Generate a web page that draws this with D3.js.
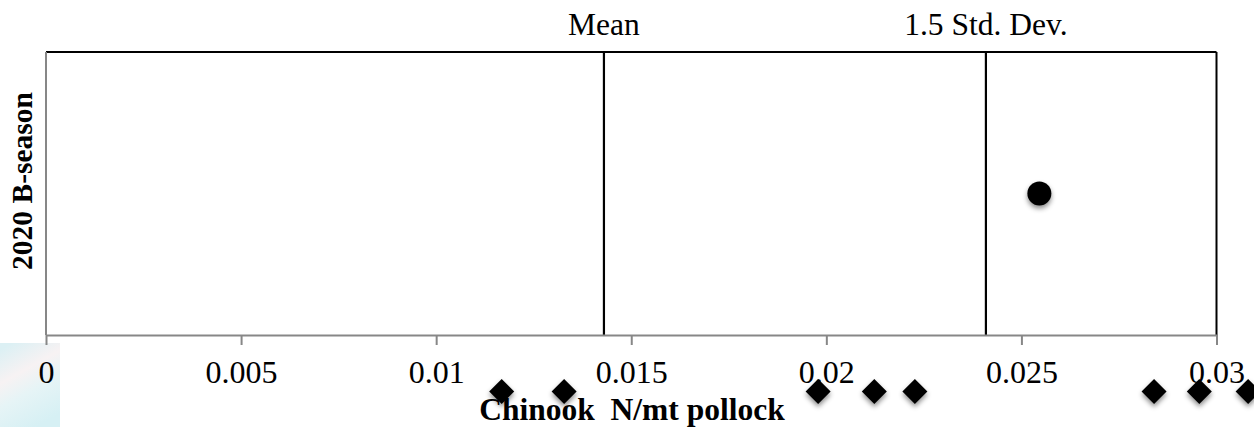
<!DOCTYPE html>
<html>
<head>
<meta charset="utf-8">
<script src="https://cdn.jsdelivr.net/npm/d3@7"></script>
<style>
  html, body { margin: 0; padding: 0; background: #fff; }
  svg { display: block; }
  text { font-family: "Liberation Serif", "Times New Roman", serif; }
</style>
</head>
<body>
<svg id="chart" width="1254" height="427"></svg>
<script>
// ---- data ----
const xTicks = [0, 0.005, 0.01, 0.015, 0.02, 0.025, 0.03];
const xTickLabels = ["0", "0.005", "0.01", "0.015", "0.02", "0.025", "0.03"];
const refLabels = ["Mean", "1.5 Std. Dev."];
const refValues = [0.0143, 0.02409];
const pointCategory = "2020 B-season";
const pointX = [0.02546];
const pointY = [0.5];
const diamondX = [0.01168, 0.01328, 0.01979, 0.02123, 0.02227, 0.0284, 0.02956, 0.03081];
const diamondY = [-0.2, -0.2, -0.2, -0.2, -0.2, -0.2, -0.2, -0.2];
const xTitle = "Chinook  N/mt pollock";

(function () {
// ---- layout ----
const svg = d3.select("#chart");
const pLeft = 46, pRight = 1216.5, pTop = 52, pBottom = 335;
const x = d3.scaleLinear().domain([0, 0.03]).range([pLeft, pRight]);
const y = d3.scaleLinear().domain([0, 1]).range([pBottom, pTop]);

const defs = svg.append("defs");
const f = defs.append("filter").attr("id", "shadow")
  .attr("x", "-50%").attr("y", "-50%").attr("width", "200%").attr("height", "200%");
f.append("feDropShadow").attr("dx", 0).attr("dy", 3).attr("stdDeviation", 2.5)
  .attr("flood-color", "#000").attr("flood-opacity", 0.45);
const g = defs.append("linearGradient").attr("id", "bluebg").attr("x1", 0.2).attr("x2", 0.6).attr("y1", 0).attr("y2", 1);
g.append("stop").attr("offset", "0%").attr("stop-color", "#dcf0f4");
g.append("stop").attr("offset", "35%").attr("stop-color", "#f7f2f3");
g.append("stop").attr("offset", "60%").attr("stop-color", "#e6f4f6");
g.append("stop").attr("offset", "100%").attr("stop-color", "#d6f0f4");

// light decorative patch at bottom left
svg.append("rect").attr("x", 0).attr("y", 343).attr("width", 60).attr("height", 84)
  .attr("fill", "url(#bluebg)");

// plot frame: top and right black
svg.append("line").attr("x1", pLeft).attr("x2", pRight).attr("y1", pTop).attr("y2", pTop)
  .attr("stroke", "#000").attr("stroke-width", 2);
svg.append("line").attr("x1", pRight).attr("x2", pRight).attr("y1", pTop).attr("y2", pBottom)
  .attr("stroke", "#000").attr("stroke-width", 2);
// left axis (grey)
svg.append("line").attr("x1", pLeft).attr("x2", pLeft).attr("y1", pTop).attr("y2", pBottom)
  .attr("stroke", "#878787").attr("stroke-width", 2);

// reference lines
svg.selectAll("line.ref").data(refValues).enter().append("line")
  .attr("class", "ref")
  .attr("x1", d => x(d)).attr("x2", d => x(d))
  .attr("y1", pTop).attr("y2", pBottom)
  .attr("stroke", "#000").attr("stroke-width", 2.2);
svg.selectAll("text.ref").data(refValues).enter().append("text")
  .attr("class", "ref")
  .attr("x", d => x(d)).attr("y", 35)
  .attr("text-anchor", "middle").attr("font-size", 31.5).attr("fill", "#000")
  .text((d, i) => refLabels[i]);

// x axis
const axis = d3.axisBottom(x).tickValues(xTicks).tickSize(10).tickSizeOuter(0)
  .tickFormat((d, i) => xTickLabels[i]);
const ax = svg.append("g").attr("transform", `translate(0,${pBottom})`).call(axis);
ax.select(".domain").attr("stroke", "#878787").attr("stroke-width", 2);
ax.selectAll(".tick line").attr("stroke", "#878787").attr("stroke-width", 2);
ax.selectAll(".tick text").attr("y", 48).attr("dy", 0)
  .attr("font-size", 32).attr("fill", "#000")
  .style("font-family", "'Liberation Serif', 'Times New Roman', serif");

// x title
svg.append("text").attr("x", 632).attr("y", 420).attr("text-anchor", "middle")
  .attr("font-size", 31.5).attr("font-weight", "bold").style("white-space", "pre")
  .text(xTitle);

// y title
svg.append("text").attr("transform", `translate(32,181) rotate(-90)`)
  .attr("text-anchor", "middle").attr("font-size", 29.5).attr("font-weight", "bold")
  .text(pointCategory);

// point
svg.selectAll("circle.pt").data(pointX).enter().append("circle")
  .attr("class", "pt")
  .attr("cx", d => x(d)).attr("cy", (d, i) => y(pointY[i])).attr("r", 12)
  .attr("fill", "#000").attr("filter", "url(#shadow)");

// diamonds
const ds = 12.5;
svg.selectAll("path.dia").data(diamondX).enter().append("path")
  .attr("class", "dia")
  .attr("d", (d, i) => {
    const cx = x(d), cy = y(diamondY[i]);
    return `M${cx},${cy - ds}L${cx + ds},${cy}L${cx},${cy + ds}L${cx - ds},${cy}Z`;
  })
  .attr("fill", "#000").attr("filter", "url(#shadow)");
})();
</script>
</body>
</html>
